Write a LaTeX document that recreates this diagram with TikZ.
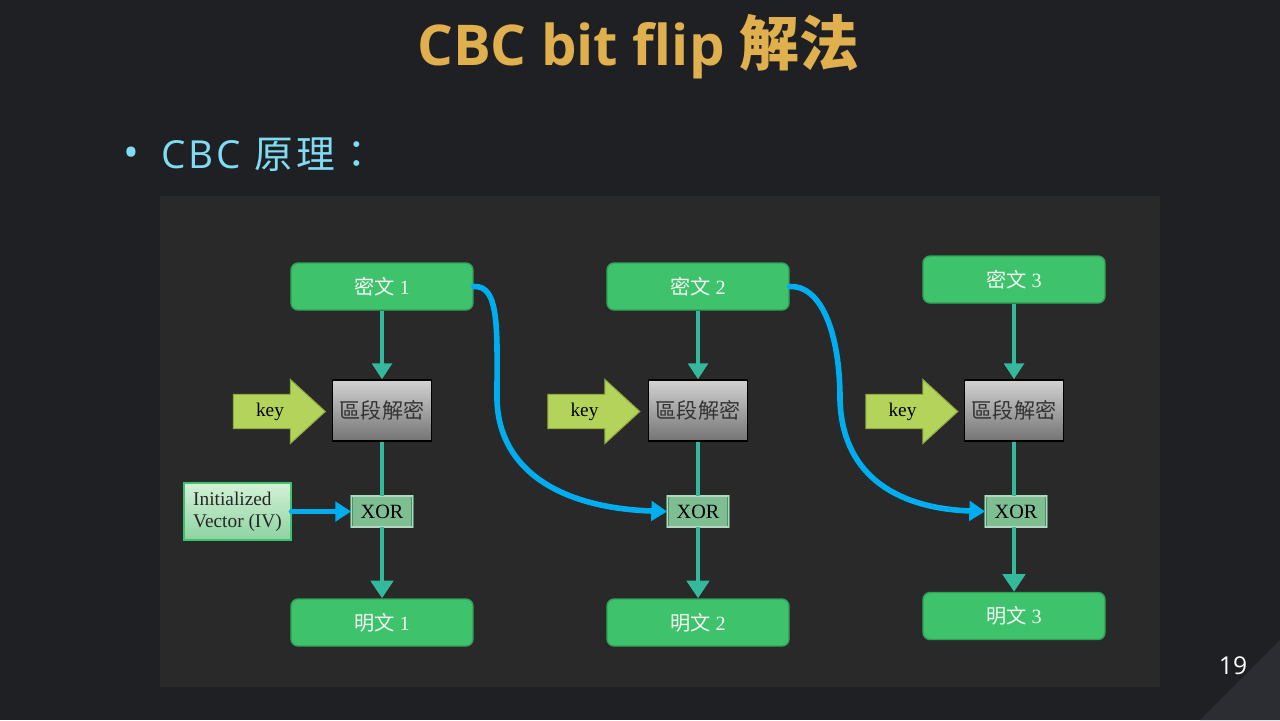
\documentclass[tikz,border=0pt]{standalone}
\usepackage{fontspec}
\setmainfont{Liberation Serif}
\newfontfamily\cjk{Noto Sans CJK TC}
\newfontfamily\uisans{Open Sans}
\usepackage{xcolor}
\usepackage{tikz}
\usetikzlibrary{shapes,arrows.meta,positioning,calc}

\definecolor{slidebg}{HTML}{1F2024}
\definecolor{panelbg}{HTML}{292929}
\definecolor{cornerbg}{HTML}{2C2D32}
\definecolor{titlegold}{HTML}{E1B04E}
\definecolor{bulletcyan}{HTML}{80DCF2}
\definecolor{boxgreen}{HTML}{3EC36C}
\definecolor{boxedge}{HTML}{2FA357}
\definecolor{boxtext}{HTML}{F2F7F2}
\definecolor{flowteal}{HTML}{34B99B}
\definecolor{chainblue}{HTML}{00AEEF}
\definecolor{keygreen}{HTML}{B4D35B}
\definecolor{keyedge}{HTML}{8DA940}
\definecolor{xorfill}{HTML}{7FBD93}
\definecolor{xoredge}{HTML}{4F8F67}
\definecolor{ivtop}{HTML}{D4F1D8}
\definecolor{ivbot}{HTML}{8DD3A0}
\definecolor{dectop}{HTML}{D2D2D2}
\definecolor{decbot}{HTML}{747474}

\newcommand{\zh}[1]{{\cjk #1}}

\tikzset{
  cipherbox/.style={draw=boxedge, line width=0.8pt, fill=boxgreen, rounded corners=4pt,
    minimum width=3.64cm, minimum height=0.94cm, inner sep=0pt, text=boxtext,
    font=\fontsize{11.5}{13}\selectfont},
  decbox/.style={draw=black, line width=0.8pt, top color=dectop, bottom color=decbot,
    minimum width=1.98cm, minimum height=1.22cm, inner sep=0pt, text=black!80,
    font=\fontsize{12}{14}\selectfont},
  xorbox/.style={draw=xoredge, double=xorfill!60!white, double distance=0.8pt, fill=xorfill,
    minimum width=1.22cm, minimum height=0.62cm, inner sep=0pt, text=black,
    font=\fontsize{11.5}{13}\selectfont},
  ivbox/.style={draw=boxgreen, line width=0.6pt, top color=ivtop, bottom color=ivbot,
    minimum width=2.14cm, minimum height=1.14cm, inner sep=0pt, align=left, text=black!85,
    font=\fontsize{11}{12.5}\selectfont},
  keyarrow/.style={single arrow, draw=keyedge, line width=0.6pt, fill=keygreen,
    minimum width=1.26cm, minimum height=1.84cm, inner ysep=0.155cm, inner xsep=0pt,
    single arrow head extend=0.3cm, single arrow tip angle=85, text=black,
    font=\fontsize{11}{13}\selectfont},
  flow/.style={draw=flowteal, line width=2.8pt},
  chain/.style={draw=chainblue, line width=3.2pt, line cap=round,
    -{Triangle[width=11pt,length=9pt]}},
}

\begin{document}
\begin{tikzpicture}[x=0.02cm, y=-0.02cm]
    % slide and panel
    \fill[slidebg] (0,0) rectangle (1280,720);
    \fill[cornerbg] (1200,720) -- (1280,640) -- (1280,720) -- cycle;
    \fill[panelbg] (160,196) rectangle (1160,687);

    % title and bullet
    \node[text=titlegold, font=\fontsize{32}{36}\selectfont] (title) at (638,47)
        {\uisans\bfseries CBC bit flip {\cjk\bfseries\fontsize{34}{36}\selectfont 解法}};
    \node[text=bulletcyan, font=\fontsize{24}{24}\selectfont] (dot) at (131,157) {\uisans •};
    \node[anchor=west, text=bulletcyan, font=\fontsize{22}{26}\selectfont] (bullet) at (155,155)
        {\uisans\addfontfeature{LetterSpace=8}CBC {\cjk\addfontfeature{LetterSpace=8}原理：}};
    \node[text=white, font=\fontsize{14}{16}\selectfont] (page) at (1233,666) {\uisans 19};

    % column 1
    \node[cipherbox] (c1) at (382,286.5) {\zh{密文} 1};
    \node[decbox] (d1) at (382,410.5) {\zh{區段解密}};
    \node[keyarrow] (k1) at (270,411.5) {key};
    \node[xorbox] (x1) at (382,511.5) {XOR};
    \node[ivbox] (iv) at (237.5,511.5) {Initialized\\Vector (IV)};
    \node[cipherbox] (p1) at (382,622.5) {\zh{明文} 1};

    % column 2
    \node[cipherbox] (c2) at (698,286.5) {\zh{密文} 2};
    \node[decbox] (d2) at (698,410.5) {\zh{區段解密}};
    \node[keyarrow] (k2) at (584.5,411.5) {key};
    \node[xorbox] (x2) at (698,511.5) {XOR};
    \node[cipherbox] (p2) at (698,622.5) {\zh{明文} 2};

    % column 3
    \node[cipherbox] (c3) at (1014,279.5) {\zh{密文} 3};
    \node[decbox] (d3) at (1014,410.5) {\zh{區段解密}};
    \node[keyarrow] (k3) at (902.5,411.5) {key};
    \node[xorbox] (x3) at (1016,511.5) {XOR};
    \node[cipherbox] (p3) at (1014,616) {\zh{明文} 3};

    % teal flow
    \draw[flow, -{Triangle[width=11pt,length=9pt]}] (c1) -- (d1);
    \draw[flow] (d1) -- (x1);
    \draw[flow, -{Triangle[width=12.5pt,length=10pt]}] (x1) -- (p1);
    \draw[flow, -{Triangle[width=11pt,length=9pt]}] (c2) -- (d2);
    \draw[flow] (d2) -- (x2);
    \draw[flow, -{Triangle[width=12.5pt,length=10pt]}] (x2) -- (p2);
    \draw[flow, -{Triangle[width=11pt,length=9pt]}] (c3) -- (d3);
    \draw[flow] (d3.south) -- (d3.south |- x3.north);
    \draw[flow, -{Triangle[width=12.5pt,length=10pt]}] (x3.south -| p3.north) -- (p3.north);

    % blue chaining
    \draw[chain] (iv.east) -- (x1.west);
    \draw[chain] (c1.east) .. controls (500,285) and (497,330) .. (497,400)
        .. controls (499,470) and (560,508) .. (x2.west);
    \draw[chain] (c2.east) .. controls (820,285) and (840,330) .. (840,400)
        .. controls (842,470) and (890,508) .. (x3.west);
\end{tikzpicture}
\end{document}
